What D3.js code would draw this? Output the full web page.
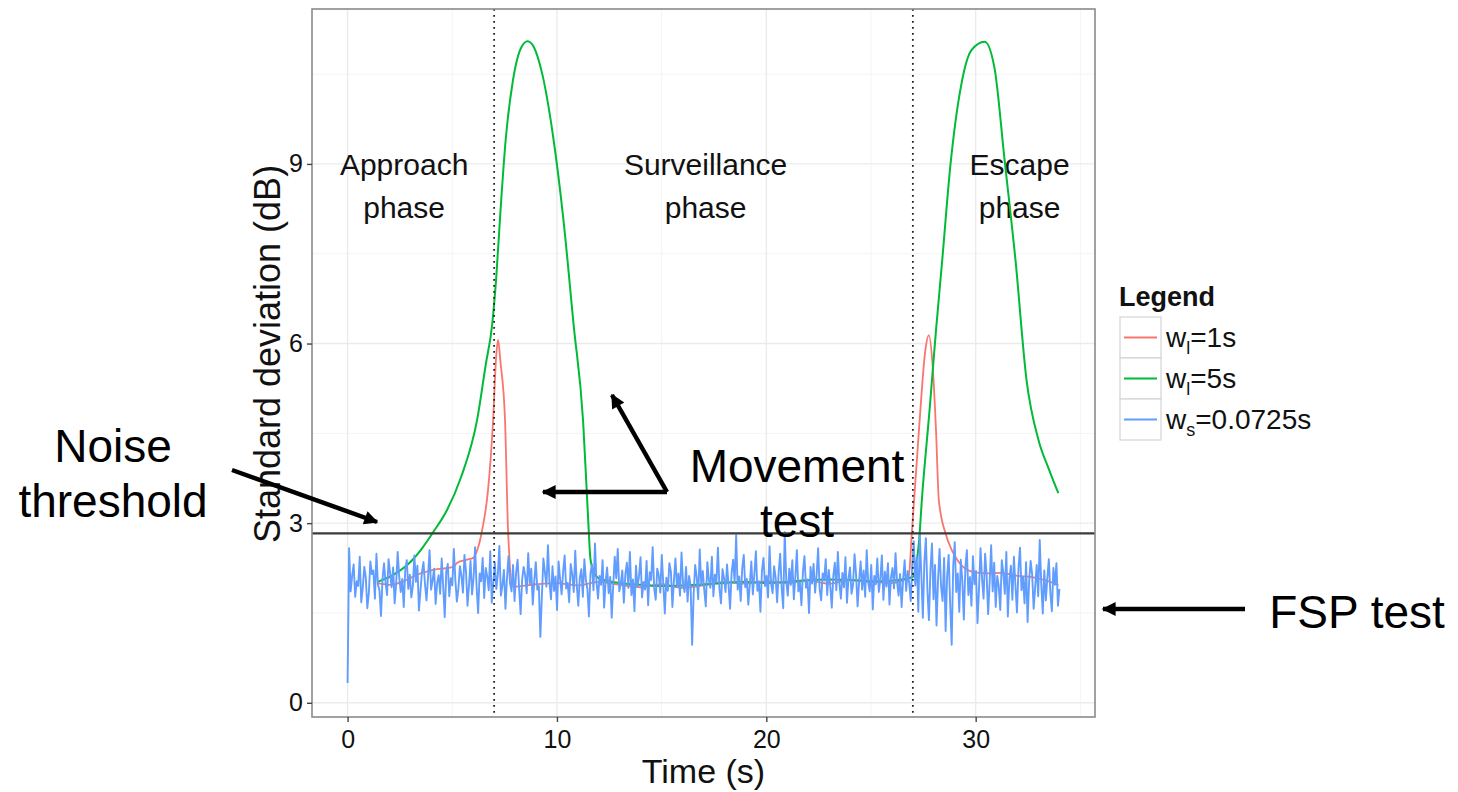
<!DOCTYPE html>
<html>
<head>
<meta charset="utf-8">
<script src="https://cdn.jsdelivr.net/npm/d3@7"></script>
<style>
  body { margin: 0; background: #fff; }
  text { font-family: "Liberation Sans", Arial, sans-serif; }
</style>
</head>
<body>
<div id="chart"></div>
<script>
// ---- data ----
var phaseBounds = [7, 27];
var noiseThreshold = 2.83;
var xTicks = [0, 10, 20, 30];
var yTicks = [0, 3, 6, 9];
var xMinor = [5, 15, 25, 35];
var yMinor = [1.5, 4.5, 7.5, 10.5];

// w_l = 1s (red)
var longWin1 = [
  [1.43, 2.0], [2.05, 1.97], [2.8, 2.05], [3.33, 2.14], [4.1, 2.22], [5.05, 2.27], [5.24, 2.34],
  [5.71, 2.39], [6.0, 2.42], [6.24, 2.6], [6.43, 2.89], [6.71, 3.56], [6.95, 4.72], [7.1, 5.8],
  [7.19, 6.06], [7.3, 5.7], [7.52, 4.72], [7.67, 2.83], [7.9, 1.94], [9, 1.98], [10, 2.0],
  [11, 1.96], [12, 2.02], [13, 1.97], [14, 1.93], [15, 1.98], [16, 1.92], [17, 1.96], [18, 2.02],
  [19, 1.99], [20, 2.03], [21, 2.0], [22, 2.04], [23, 1.99], [24, 2.05], [25, 2.02], [26, 2.0],
  [26.8, 2.1], [26.95, 2.83], [27.3, 4.6], [27.6, 5.9], [27.76, 6.14], [27.95, 5.6], [28.1, 4.6],
  [28.24, 3.39], [28.56, 2.83], [28.86, 2.55], [29.19, 2.35], [29.81, 2.19], [30.5, 2.16],
  [31.2, 2.17], [32, 2.12], [32.7, 2.1], [33.3, 2.05], [33.95, 1.97]
];

// w_l = 5s (green)
var longWin5 = [
  [1.43, 2.02], [2.2, 2.14], [3.0, 2.35], [3.6, 2.6], [4.05, 2.83], [4.75, 3.22], [5.4, 3.75],
  [6.2, 4.75], [6.6, 5.65], [6.9, 6.3], [7.1, 7.1], [7.3, 8.2], [7.55, 9.4], [7.9, 10.4],
  [8.3, 10.95], [8.6, 11.05], [8.9, 10.95], [9.3, 10.5], [9.8, 9.5], [10.3, 8.1], [10.8, 6.3],
  [11.25, 4.7], [11.5, 3.0], [11.6, 2.4], [11.8, 2.15], [12.0, 2.08], [13, 2.0], [14, 1.97],
  [15, 1.95], [16, 1.96], [17, 1.98], [18, 2.0], [19, 2.02], [20, 2.0], [21, 2.02], [22, 2.05],
  [23, 2.06], [24, 2.05], [25, 2.03], [26, 2.04], [27.0, 2.1], [27.15, 2.3], [27.29, 2.67],
  [27.43, 3.39], [27.8, 4.9], [28.1, 6.2], [28.38, 7.3], [28.8, 9.0], [29.3, 10.3], [29.8, 10.9],
  [30.43, 11.04], [30.9, 10.6], [31.38, 9.07], [31.9, 7.4], [32.43, 5.39], [33.0, 4.39],
  [33.5, 3.9], [33.95, 3.5]
];

// w_s = 0.0725s (blue), one value per short window
var shortStep = 0.0725;
var shortWin = [
  0.33, 2.58, 1.86, 2.12, 2.31, 1.77, 2.03, 1.95, 2.44, 1.68,
  1.92, 2.27, 2.09, 1.58, 1.83, 2.36, 2.15, 2.21, 1.74, 2.49,
  1.97, 1.88, 1.45, 2.06, 2.33, 2.01, 1.80, 2.40, 2.17, 1.93,
  2.26, 1.66, 1.99, 2.52, 2.11, 1.85, 2.07, 1.60, 2.23, 2.38,
  1.90, 2.14, 1.76, 1.95, 2.46, 2.02, 2.29, 1.54, 1.87, 2.18,
  2.35, 1.98, 1.71, 2.10, 2.55, 1.89, 2.04, 2.24, 1.65, 2.00,
  2.13, 1.82, 2.41, 1.94, 1.43, 2.19, 2.32, 1.78, 2.08, 1.96,
  2.57, 2.05, 1.69, 1.91, 2.28, 2.12, 1.84, 2.47, 2.20, 1.62,
  1.97, 2.37, 1.81, 2.09, 2.60, 1.93, 1.50, 2.16, 2.03, 2.42,
  1.75, 2.25, 2.11, 1.88, 2.53, 1.67, 2.01, 2.34, 1.90, 2.14,
  2.62, 1.79, 1.96, 2.22, 1.57, 2.08, 2.45, 2.00, 1.86, 2.30,
  1.70, 2.17, 2.39, 1.92, 1.48, 2.06, 2.27, 2.13, 1.83, 2.50,
  1.99, 2.24, 1.64, 2.04, 2.35, 1.89, 1.95, 1.10, 1.78, 2.41,
  2.18, 1.94, 2.63, 2.02, 1.73, 2.28, 1.87, 2.11, 1.55, 2.36,
  2.07, 1.81, 2.19, 2.46, 1.91, 2.00, 1.68, 2.32, 2.14, 1.85,
  2.54, 1.96, 1.62, 2.09, 2.23, 1.77, 2.40, 2.05, 1.90, 1.44,
  2.16, 2.31, 1.88, 2.66, 2.01, 1.74, 2.12, 1.97, 2.38, 1.59,
  2.03, 2.26, 1.83, 2.10, 1.42, 1.95, 2.44, 2.08, 2.57, 1.86,
  1.99, 2.21, 1.67, 2.15, 2.34, 1.92, 2.52, 1.80, 2.06, 1.53,
  2.29, 1.94, 2.11, 2.43, 1.76, 2.02, 1.89, 2.37, 1.63, 2.18,
  2.05, 2.60, 1.91, 1.72, 2.24, 2.13, 1.84, 2.47, 1.98, 1.49,
  2.09, 1.87, 2.33, 2.19, 1.60, 2.04, 2.41, 1.93, 2.16, 1.79,
  2.51, 2.00, 1.85, 2.27, 1.69, 2.12, 1.95, 0.97, 1.82, 2.30,
  2.10, 1.73, 2.56, 1.97, 2.20, 1.88, 1.61, 2.35, 2.06, 1.92,
  2.44, 1.78, 2.14, 2.02, 2.59, 1.90, 1.66, 2.23, 2.08, 1.85,
  2.31, 1.96, 1.57, 2.17, 2.39, 2.01, 2.80, 1.89, 2.11, 1.70,
  2.25, 2.47, 1.93, 2.07, 1.64, 1.99, 2.36, 1.81, 2.15, 2.53,
  1.87, 2.03, 1.52, 2.21, 2.42, 1.95, 2.12, 1.76, 2.61, 2.00,
  1.83, 2.28, 2.09, 1.68, 2.18, 2.49, 1.91, 1.58, 2.85, 2.04,
  1.79, 2.24, 1.97, 2.38, 1.73, 2.10, 2.55, 1.86, 2.02, 1.63,
  2.19, 2.45, 1.92, 2.06, 1.50, 2.27, 1.99, 2.32, 1.84, 2.13,
  2.58, 1.90, 1.71, 2.16, 2.04, 2.40, 1.80, 2.22, 1.95, 1.59,
  2.11, 2.34, 1.88, 2.52, 2.00, 1.74, 2.17, 1.93, 2.43, 1.67,
  2.08, 2.26, 1.82, 1.97, 2.48, 2.14, 1.61, 2.03, 2.36, 1.89,
  2.21, 1.77, 2.55, 2.01, 1.86, 2.30, 1.56, 2.12, 1.98, 2.41,
  1.85, 2.07, 2.46, 1.72, 2.19, 1.94, 2.33, 1.64, 2.09, 2.25,
  1.91, 2.50, 2.02, 1.79, 2.15, 1.60, 2.06, 2.38, 1.87, 2.20,
  2.00, 1.70, 2.29, 2.70, 1.96, 2.44, 1.52, 2.80, 2.13, 1.42,
  2.36, 2.75, 1.88, 1.38, 2.21, 2.66, 1.73, 2.30, 1.29, 2.05,
  2.57, 1.94, 1.70, 2.42, 1.20, 2.12, 2.47, 1.64, 0.97, 2.28,
  2.68, 1.85, 2.16, 1.52, 2.39, 2.04, 1.39, 2.26, 2.55, 1.80,
  2.10, 1.62, 2.45, 1.98, 2.20, 1.33, 1.91, 2.58, 2.07, 1.74,
  2.49, 2.14, 1.48, 2.01, 2.63, 1.86, 2.34, 1.60, 2.12, 1.95,
  1.55, 2.38, 2.18, 1.82, 2.52, 1.44, 2.06, 2.29, 1.72, 2.44,
  1.96, 1.51, 2.24, 2.59, 1.88, 2.10, 1.66, 2.35, 1.35, 2.02,
  2.37, 2.15, 1.57, 1.93, 2.30, 1.78, 2.72, 1.99, 1.49, 2.21,
  1.71, 2.08, 2.40, 1.84, 1.53, 2.25, 1.97, 2.33, 1.62, 1.90
];

var phaseLabels = [
  { x: 2.7, y: 9, lines: ["Approach", "phase"] },
  { x: 17.1, y: 9, lines: ["Surveillance", "phase"] },
  { x: 32.1, y: 9, lines: ["Escape", "phase"] }
];

var seriesNames = ["l=1s", "l=5s", "s=0.0725s"];
var seriesColors = ["#F8766D", "#00BA38", "#619CFF"];

// ---- layout ----
var W = 1458, H = 792;
var panel = { left: 312, right: 1095, top: 9, bottom: 717 };

var svg = d3.select("#chart").append("svg").attr("width", W).attr("height", H);

// ggplot style 5% expansion
var xr = [0, 34], yr = [0.3, 11.05];
var xPad = (xr[1] - xr[0]) * 0.05, yPad = (yr[1] - yr[0]) * 0.05;
var x = d3.scaleLinear().domain([xr[0] - xPad, xr[1] + xPad]).range([panel.left, panel.right]);
var y = d3.scaleLinear().domain([yr[0] - yPad, yr[1] + yPad]).range([panel.bottom, panel.top]);

var shortPts = shortWin.map(function (v, i) { return [i * shortStep, v]; });

svg.append("rect")
  .attr("x", panel.left).attr("y", panel.top)
  .attr("width", panel.right - panel.left).attr("height", panel.bottom - panel.top)
  .attr("fill", "#fff");

var clip = svg.append("defs").append("clipPath").attr("id", "clip");
clip.append("rect")
  .attr("x", panel.left).attr("y", panel.top)
  .attr("width", panel.right - panel.left).attr("height", panel.bottom - panel.top);

var grid = svg.append("g");
grid.selectAll(".vminor").data(xMinor.filter(function (d) { return x(d) < panel.right; })).enter().append("line")
  .attr("x1", function (d) { return x(d); }).attr("x2", function (d) { return x(d); })
  .attr("y1", panel.top).attr("y2", panel.bottom)
  .attr("stroke", "#f4f4f4").attr("stroke-width", 1);
grid.selectAll(".hminor").data(yMinor).enter().append("line")
  .attr("x1", panel.left).attr("x2", panel.right)
  .attr("y1", function (d) { return y(d); }).attr("y2", function (d) { return y(d); })
  .attr("stroke", "#f4f4f4").attr("stroke-width", 1);
grid.selectAll(".vmajor").data(xTicks).enter().append("line")
  .attr("x1", function (d) { return x(d); }).attr("x2", function (d) { return x(d); })
  .attr("y1", panel.top).attr("y2", panel.bottom)
  .attr("stroke", "#ebebeb").attr("stroke-width", 1.4);
grid.selectAll(".hmajor").data(yTicks).enter().append("line")
  .attr("x1", panel.left).attr("x2", panel.right)
  .attr("y1", function (d) { return y(d); }).attr("y2", function (d) { return y(d); })
  .attr("stroke", "#ebebeb").attr("stroke-width", 1.4);

// phase labels
phaseLabels.forEach(function (p) {
  var t = svg.append("text")
    .attr("x", x(p.x)).attr("y", y(p.y))
    .attr("text-anchor", "middle")
    .attr("dominant-baseline", "central")
    .attr("font-size", 30).attr("fill", "#111");
  p.lines.forEach(function (l, i) {
    t.append("tspan").attr("x", x(p.x)).attr("dy", i == 0 ? 0 : 43).text(l);
  });
});

// lines
var line = d3.line().x(function (d) { return x(d[0]); }).y(function (d) { return y(d[1]); });
var curved = d3.line().curve(d3.curveMonotoneX).x(function (d) { return x(d[0]); }).y(function (d) { return y(d[1]); });
var plot = svg.append("g").attr("clip-path", "url(#clip)");

plot.append("path").datum(longWin1).attr("d", curved)
  .attr("fill", "none").attr("stroke", seriesColors[0]).attr("stroke-width", 1.8);
plot.append("path").datum(longWin5).attr("d", curved)
  .attr("fill", "none").attr("stroke", seriesColors[1]).attr("stroke-width", 2);
plot.append("path").datum(shortPts).attr("d", line)
  .attr("fill", "none").attr("stroke", seriesColors[2]).attr("stroke-width", 1.9)
  .attr("stroke-linejoin", "round");

// phase boundaries and threshold
plot.selectAll(".bound").data(phaseBounds).enter().append("line")
  .attr("x1", function (d) { return x(d); }).attr("x2", function (d) { return x(d); })
  .attr("y1", panel.top).attr("y2", panel.bottom)
  .attr("stroke", "#222").attr("stroke-width", 1.8)
  .attr("stroke-dasharray", "1.8 4.2");
plot.append("line")
  .attr("x1", panel.left).attr("x2", panel.right)
  .attr("y1", y(noiseThreshold)).attr("y2", y(noiseThreshold))
  .attr("stroke", "#3a3a3a").attr("stroke-width", 2.4);

// panel border
svg.append("rect")
  .attr("x", panel.left).attr("y", panel.top)
  .attr("width", panel.right - panel.left).attr("height", panel.bottom - panel.top)
  .attr("fill", "none").attr("stroke", "#8a8a8a").attr("stroke-width", 1.6);

// axes
var xAxis = svg.append("g").attr("transform", "translate(0," + panel.bottom + ")")
  .call(d3.axisBottom(x).tickValues(xTicks).tickSize(5).tickPadding(8).tickFormat(d3.format("d")));
var yAxis = svg.append("g").attr("transform", "translate(" + panel.left + ",0)")
  .call(d3.axisLeft(y).tickValues(yTicks).tickSize(5).tickPadding(4).tickFormat(d3.format("d")));
[xAxis, yAxis].forEach(function (a) {
  a.select(".domain").remove();
  a.selectAll(".tick line").attr("stroke", "#444").attr("stroke-width", 1.4);
  a.selectAll(".tick text").attr("font-size", 25).attr("fill", "#111")
    .attr("font-family", "'Liberation Sans', Arial, sans-serif");
});

svg.append("text").attr("x", (panel.left + panel.right) / 2).attr("y", 783)
  .attr("text-anchor", "middle").attr("font-size", 34).attr("fill", "#111").text("Time (s)");
svg.append("text")
  .attr("transform", "translate(280,354) rotate(-90)")
  .attr("text-anchor", "middle").attr("font-size", 36).attr("fill", "#111")
  .text("Standard deviation (dB)");

// legend
var lg = svg.append("g").attr("transform", "translate(1120,0)");
lg.append("text").attr("x", -1).attr("y", 306)
  .attr("font-size", 27).attr("font-weight", "bold").attr("fill", "#111").text("Legend");
seriesNames.forEach(function (name, i) {
  var top = 317 + i * 41;
  lg.append("rect").attr("x", 0).attr("y", top).attr("width", 41).attr("height", 41)
    .attr("fill", "#fff").attr("stroke", "#d4d4d4").attr("stroke-width", 1.2);
  lg.append("line").attr("x1", 4).attr("x2", 37).attr("y1", top + 20.5).attr("y2", top + 20.5)
    .attr("stroke", seriesColors[i]).attr("stroke-width", 2);
  var t = lg.append("text").attr("x", 46).attr("y", top + 30).attr("font-size", 28).attr("fill", "#111");
  t.append("tspan").text("w");
  t.append("tspan").attr("font-size", 18).attr("dy", 7).text(name.charAt(0));
  t.append("tspan").attr("dy", -7).text(name.slice(1));
});

// annotations (outside the data)
var defs = svg.select("defs");
defs.append("marker").attr("id", "head")
  .attr("viewBox", "0 -5 10 10").attr("refX", 9).attr("refY", 0)
  .attr("markerWidth", 16).attr("markerHeight", 14).attr("markerUnits", "userSpaceOnUse")
  .attr("orient", "auto")
  .append("path").attr("d", "M0,-5L10,0L0,5Z").attr("fill", "#000");

var arrows = [
  [232, 470, 377, 522],
  [667, 492, 612, 395],
  [667, 492, 543, 492],
  [1245, 609, 1103, 609]
];
svg.selectAll(".arrow").data(arrows).enter().append("line")
  .attr("x1", function (d) { return d[0]; }).attr("y1", function (d) { return d[1]; })
  .attr("x2", function (d) { return d[2]; }).attr("y2", function (d) { return d[3]; })
  .attr("stroke", "#000").attr("stroke-width", 4.5).attr("marker-end", "url(#head)");

var notes = [
  { x: 113, y: 462, lines: ["Noise", "threshold"] },
  { x: 797, y: 482, lines: ["Movement", "test"] },
  { x: 1357, y: 628, lines: ["FSP test"] }
];
notes.forEach(function (n) {
  var t = svg.append("text").attr("x", n.x).attr("y", n.y)
    .attr("text-anchor", "middle").attr("font-size", 46).attr("fill", "#000");
  n.lines.forEach(function (l, i) {
    t.append("tspan").attr("x", n.x).attr("dy", i == 0 ? 0 : 55).text(l);
  });
});
</script>
</body>
</html>
